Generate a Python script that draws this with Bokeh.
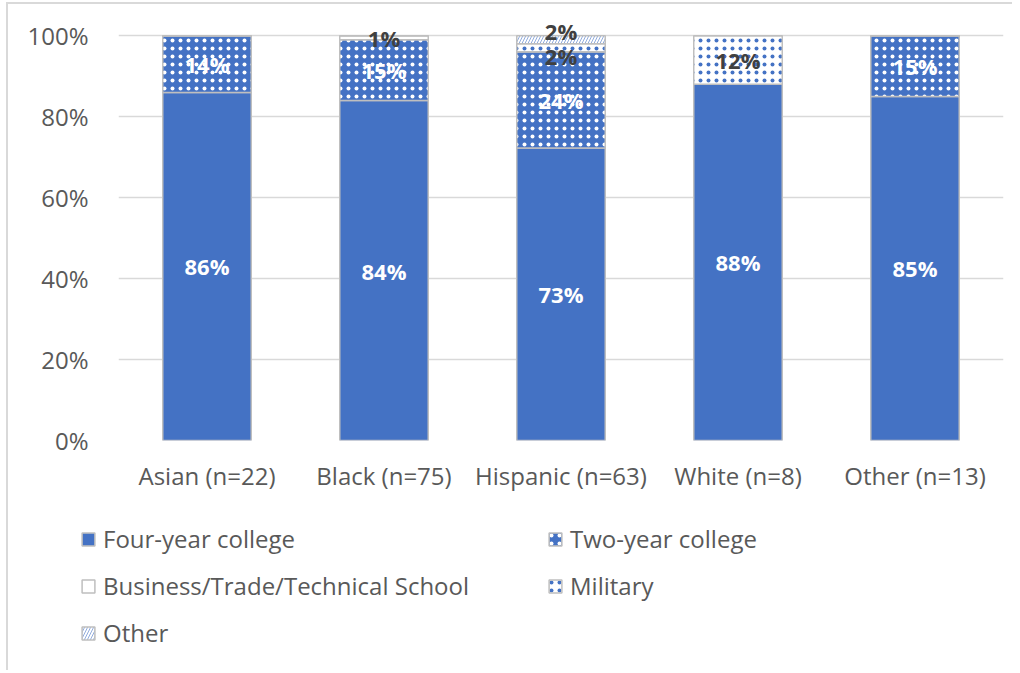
from bokeh.plotting import figure
from bokeh.layouts import column
from bokeh.models import (FactorRange, Range1d, Legend, LegendItem, ColumnDataSource,
                          NumeralTickFormatter, FixedTicker)
from bokeh.core.properties import value
from bokeh.embed import file_html
from bokeh.resources import INLINE

categories = ["Asian (n=22)", "Black (n=75)", "Hispanic (n=63)", "White (n=8)", "Other (n=13)"]
series = ["Four-year college", "Two-year college", "Business/Trade/Technical School", "Military", "Other"]
four_year = [86, 84, 73, 88, 85]
two_year = [14, 15, 24, 0, 15]
business = [0, 1, 0, 0, 0]
military = [0, 0, 2, 12, 0]
other = [0, 0, 2, 0, 0]
y_ticks = [0, 20, 40, 60, 80, 100]

raw = [four_year, two_year, business, military, other]
keys = ["s0", "s1", "s2", "s3", "s4"]
totals = [sum(col) for col in zip(*raw)]
data = {"cat": categories}
for k, vals in zip(keys, raw):
    data[k] = [v / t for v, t in zip(vals, totals)]
source = ColumnDataSource(data)

FONT = "Open Sans"
BLUE = "#4472C4"
EDGE = "#BFBFBF"

p = figure(x_range=FactorRange(*categories, range_padding=0), y_range=Range1d(0, 1.05),
           width=1004, height=501, output_backend="svg", toolbar_location=None,
           min_border_left=110, min_border_right=9, min_border_top=11, min_border_bottom=65)
p.frame_align = False

fills = [BLUE, BLUE, "white", "white", "white"]
hatches = [" ", "dot", " ", "dot", "right_diagonal_line"]
hcolors = [BLUE, "white", BLUE, BLUE, BLUE]
hscales = [8, 8, 8, 8, 6]
style = dict(fill_color=fills, line_color=EDGE, line_width=1.5,
             hatch_pattern=hatches, hatch_color=hcolors,
             hatch_scale=hscales, hatch_weight=0.6)
renderers = p.vbar_stack(keys, x="cat", width=0.5, source=source, **style)

# data labels
lx, ly, lt, lc, loff = [], [], [], [], []
for ci, cat in enumerate(categories):
    bottom = 0.0
    prev_small = None
    for si, k in enumerate(keys):
        v = data[k][ci]
        raw_v = raw[si][ci]
        if raw_v > 0:
            lx.append(cat)
            ly.append(bottom + v / 2)
            lt.append(f"{raw_v}%")
            dark = fills[si] == "white" or raw_v < 5
            lc.append("#404040" if dark else "white")
            off = 0
            if raw_v < 5:
                if prev_small is not None and prev_small == len(loff) - 1:
                    loff[prev_small] = -8
                    off = 9
                prev_small = len(loff)
            loff.append(off)
        bottom += v
p.text(x=lx, y=ly, text=lt, text_color=lc, y_offset=[-o for o in loff],
       text_font=value(FONT), text_font_size="22px", text_font_style="bold",
       text_align="center", text_baseline="middle")

# axes
p.yaxis.ticker = FixedTicker(ticks=[t / 100 for t in y_ticks])
p.yaxis.formatter = NumeralTickFormatter(format="0%")
for ax in (p.xaxis[0], p.yaxis[0]):
    ax.axis_line_color = None
    ax.major_tick_line_color = None
    ax.minor_tick_line_color = None
    ax.major_label_text_font = FONT
    ax.major_label_text_font_size = "24px"
    ax.major_label_text_color = "#595959"
p.yaxis.major_label_standoff = 24
p.xaxis.major_label_standoff = 12
p.xgrid.grid_line_color = None
p.ygrid.grid_line_color = "#D9D9D9"
p.ygrid.grid_line_width = 1.5
p.outline_line_color = None

# legend panel (separate figure holding hidden proxy renderers for the swatches)
lg = figure(x_range=Range1d(0, 1), y_range=Range1d(0, 1), width=1004, height=165,
            output_backend="svg", toolbar_location=None,
            min_border=0, min_border_left=0, min_border_right=0,
            min_border_top=0, min_border_bottom=0,
            x_axis_type=None, y_axis_type=None)
lg.frame_align = False
lg.xgrid.grid_line_color = None
lg.ygrid.grid_line_color = None
lg.outline_line_color = None
proxy = ColumnDataSource({"x": [50.0], **{k: [0.1] for k in keys}})
proxies = lg.vbar_stack(keys, x="x", width=0.5, source=proxy, **style)
for r in proxies:
    r.visible = False
legend = Legend(items=[LegendItem(label=s, renderers=[r]) for s, r in zip(series, proxies)],
                location=(72, 21), orientation="horizontal", ncols=2,
                glyph_width=16, glyph_height=16, label_standoff=7, label_width=430,
                label_height=30, spacing=14, padding=0, margin=0,
                label_text_font=FONT, label_text_font_size="24px", label_text_color="#595959",
                border_line_color=None, background_fill_alpha=0)
lg.add_layout(legend, "center")

layout = column(p, lg, spacing=0)
layout.styles = {"border-left": "2px solid #D9D9D9", "border-top": "2px solid #D9D9D9",
                 "margin-left": "6px", "margin-top": "2px"}
open("out.html", "w").write(file_html(layout, INLINE))
